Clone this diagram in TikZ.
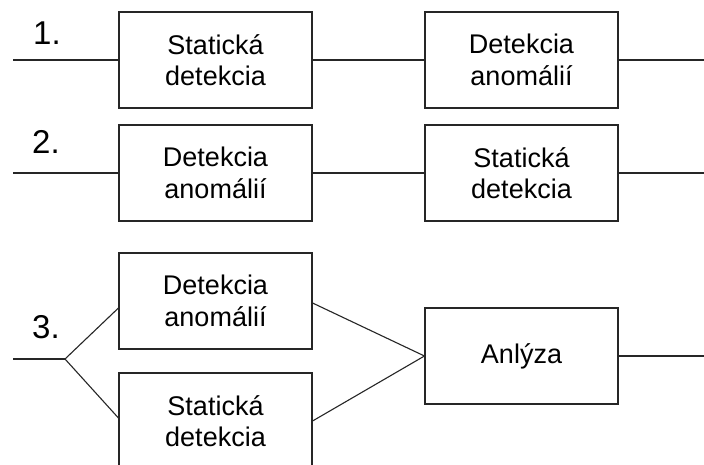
\documentclass[tikz,border=0pt]{standalone}
\usepackage{fontspec}
\setmainfont{Liberation Sans}
\begin{document}
\begin{tikzpicture}[x=1pt,y=-1pt,
  blk/.style={draw=black!85, line width=1.1pt, minimum width=193pt, minimum height=96pt,
    align=center, inner sep=0pt, font=\fontsize{27}{31.5}\selectfont},
  num/.style={inner sep=0pt, font=\fontsize{33}{36}\selectfont},
  wire/.style={draw=black!85, line width=1.1pt}]
\clip (0,0) rectangle (704,465);
\fill[white] (0,0) rectangle (704,465);

% variant 1: static detection, then anomaly detection
\node[num] (n1) at (47,33) {1.};
\node[blk] (a1) at (215.5,60) {Statická\\detekcia};
\node[blk] (b1) at (521.5,60) {Detekcia\\anomálií};
\coordinate (in1) at (13,60);
\coordinate (out1) at (710,60);
\draw[wire] (in1) -- (a1) -- (b1) -- (out1);

% variant 2: anomaly detection, then static detection
\node[num] (n2) at (46,142) {2.};
\node[blk] (a2) at (215.5,173) {Detekcia\\anomálií};
\node[blk] (b2) at (521.5,173) {Statická\\detekcia};
\coordinate (in2) at (13,173);
\coordinate (out2) at (710,173);
\draw[wire] (in2) -- (a2) -- (b2) -- (out2);

% variant 3: both in parallel, merged by analysis
\node[num] (n3) at (46,327) {3.};
\node[blk] (a3) at (215.5,301) {Detekcia\\anomálií};
\node[blk] (s3) at (215.5,421) {Statická\\detekcia};
\node[blk] (an) at (521.5,356) {Anlýza};
\coordinate (in3) at (13,359);
\coordinate (fork) at (65,359);
\coordinate (out3) at (710,356);
\draw[wire] (in3) -- (fork);
\draw[wire] (fork) -- ([yshift=-7pt]a3.west);
\draw[wire] (fork) -- ([yshift=3pt]s3.west);
\draw[wire] ([yshift=-2pt]a3.east) -- (an.west);
\draw[wire] (s3.east) -- (an.west);
\draw[wire] (an) -- (out3);
\end{tikzpicture}
\end{document}
